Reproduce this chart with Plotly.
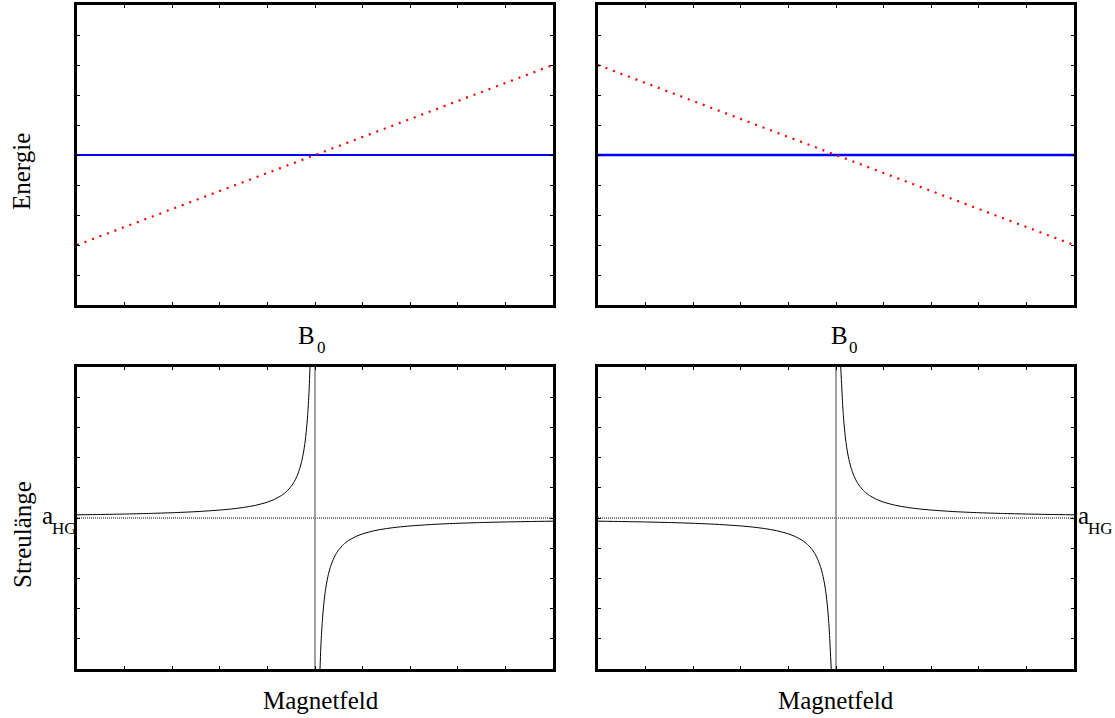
import plotly.graph_objects as go

# ---- data (arbitrary units, both axes span 0..10) ----
b_field = [0, 10]
level_flat = [5, 5]               # closed-channel / bound level
level_rising = [2, 8]             # open-channel threshold, left panel
level_falling = [8, 2]            # open-channel threshold, right panel

a_hg = 5.0                        # background scattering length
b_res = 5.0                       # resonance position

# scattering length near the resonance, left panel
left_lo_b = [0, 0.5, 1, 1.5, 2, 2.5, 3, 3.25, 3.5, 3.75, 4, 4.15, 4.3, 4.4, 4.5,
             4.57, 4.63, 4.68, 4.72, 4.76, 4.79, 4.82, 4.845, 4.865, 4.88, 4.895]
left_lo_a = [5.105, 5.117, 5.131, 5.15, 5.175, 5.21, 5.263, 5.3, 5.35, 5.42, 5.525,
             5.618, 5.75, 5.875, 6.05, 6.221, 6.419, 6.641, 6.875, 7.1875, 7.5,
             7.917, 8.387, 8.889, 9.375, 10.0]
left_hi_b = [5.105, 5.12, 5.135, 5.155, 5.18, 5.21, 5.24, 5.28, 5.32, 5.37, 5.43,
             5.5, 5.6, 5.7, 5.85, 6, 6.25, 6.5, 6.75, 7, 7.5, 8, 8.5, 9, 9.5, 10]
left_hi_a = [0.0, 0.625, 1.111, 1.613, 2.083, 2.5, 2.8125, 3.125, 3.359, 3.581,
             3.779, 3.95, 4.125, 4.25, 4.382, 4.475, 4.58, 4.65, 4.7, 4.737, 4.79,
             4.825, 4.85, 4.869, 4.883, 4.895]

# right panel: mirrored resonance
right_lo_b = [0, 0.5, 1, 1.5, 2, 2.5, 3, 3.25, 3.5, 3.75, 4, 4.15, 4.3, 4.4, 4.5,
              4.57, 4.63, 4.68, 4.72, 4.76, 4.79, 4.82, 4.845, 4.865, 4.88, 4.9]
right_lo_a = [4.895, 4.883, 4.869, 4.85, 4.825, 4.79, 4.737, 4.7, 4.65, 4.58, 4.475,
              4.382, 4.25, 4.125, 3.95, 3.779, 3.581, 3.359, 3.125, 2.8125, 2.5,
              2.083, 1.613, 1.111, 0.625, 0.0]
right_hi_b = [5.1, 5.12, 5.135, 5.155, 5.18, 5.21, 5.24, 5.28, 5.32, 5.37, 5.43,
              5.5, 5.6, 5.7, 5.85, 6, 6.25, 6.5, 6.75, 7, 7.5, 8, 8.5, 9, 9.5, 10]
right_hi_a = [10.0, 9.375, 8.889, 8.387, 7.917, 7.5, 7.1875, 6.875, 6.641, 6.419,
              6.221, 6.05, 5.875, 5.75, 5.618, 5.525, 5.42, 5.35, 5.3, 5.263, 5.21,
              5.175, 5.15, 5.131, 5.117, 5.105]

W, H = 1115, 718


def px(x):
    return x / W


def py(y):
    return 1 - y / H


fig = go.Figure()

# panel domains (pixel edges of the framed boxes)
doms = {
    1: ((77, 553), (5, 305)),
    2: ((598, 1074), (5, 305)),
    3: ((77, 553), (367, 669)),
    4: ((598, 1074), (367, 669)),
}

for i, ((x0, x1), (y0, y1)) in doms.items():
    xa = "xaxis" if i == 1 else f"xaxis{i}"
    ya = "yaxis" if i == 1 else f"yaxis{i}"
    common = dict(range=[0, 10], showline=True, linecolor="black", linewidth=2.5,
                  mirror="ticks", ticks="inside", ticklen=3, tickwidth=1,
                  tickcolor="black", dtick=1, showticklabels=False,
                  showgrid=False, zeroline=False, fixedrange=True)
    fig.update_layout({
        xa: dict(domain=[px(x0), px(x1)], anchor=f"y{'' if i == 1 else i}", **common),
        ya: dict(domain=[py(y1), py(y0)], anchor=f"x{'' if i == 1 else i}", **common),
    })


def ref(i):
    return ("x", "y") if i == 1 else (f"x{i}", f"y{i}")


red_dot = dict(color="#ff0000", width=2.2, dash="2px,6px")

# energy levels
for i, red_y, bw in ((1, level_rising, 2), (2, level_falling, 2.6)):
    xr, yr = ref(i)
    fig.add_trace(go.Scatter(x=b_field, y=level_flat, mode="lines",
                             line=dict(color="#0000ff", width=bw),
                             xaxis=xr, yaxis=yr))
    fig.add_trace(go.Scatter(x=b_field, y=red_y, mode="lines", line=red_dot,
                             xaxis=xr, yaxis=yr))

# scattering length panels
for i, branches in ((3, [(left_lo_b, left_lo_a), (left_hi_b, left_hi_a)]),
                    (4, [(right_lo_b, right_lo_a), (right_hi_b, right_hi_a)])):
    xr, yr = ref(i)
    fig.add_trace(go.Scatter(x=b_field, y=[a_hg, a_hg], mode="lines",
                             line=dict(color="black", width=1, dash="1px,1px"),
                             xaxis=xr, yaxis=yr))
    fig.add_trace(go.Scatter(x=[b_res, b_res], y=[0, 10], mode="lines",
                             line=dict(color="#808080", width=1.5),
                             xaxis=xr, yaxis=yr))
    for bx, ay in branches:
        fig.add_trace(go.Scatter(x=bx, y=ay, mode="lines", line_shape="spline",
                                 line=dict(color="black", width=1, smoothing=0.6),
                                 xaxis=xr, yaxis=yr))

family = "Liberation Serif, Times New Roman, serif"
big = dict(family=family, size=25, color="black")
small = dict(family=family, size=17, color="black")

ann = [
    dict(text="Energie", x=22, y=172, textangle=-90, font=big),
    dict(text="Streulänge", x=22, y=535, textangle=-90, font=big),
    dict(text="B", x=307, y=335, font=big),
    dict(text="0", x=321, y=347, font=small),
    dict(text="B", x=839, y=335, font=big),
    dict(text="0", x=853, y=347, font=small),
    dict(text="Magnetfeld", x=321, y=700, font=big),
    dict(text="Magnetfeld", x=836, y=700, font=big),
    dict(text="a", x=47, y=515, font=big),
    dict(text="HG", x=64, y=528, font=small),
    dict(text="a", x=1083, y=515, font=big),
    dict(text="HG", x=1100, y=528, font=small),
]
for a in ann:
    a.update(x=px(a["x"]), y=py(a["y"]), xref="paper", yref="paper",
             showarrow=False, xanchor="center", yanchor="middle")

fig.update_layout(width=W, height=H, margin=dict(l=0, r=0, t=0, b=0),
                  paper_bgcolor="white", plot_bgcolor="white",
                  showlegend=False, annotations=ann)

fig.write_html("out.html")
